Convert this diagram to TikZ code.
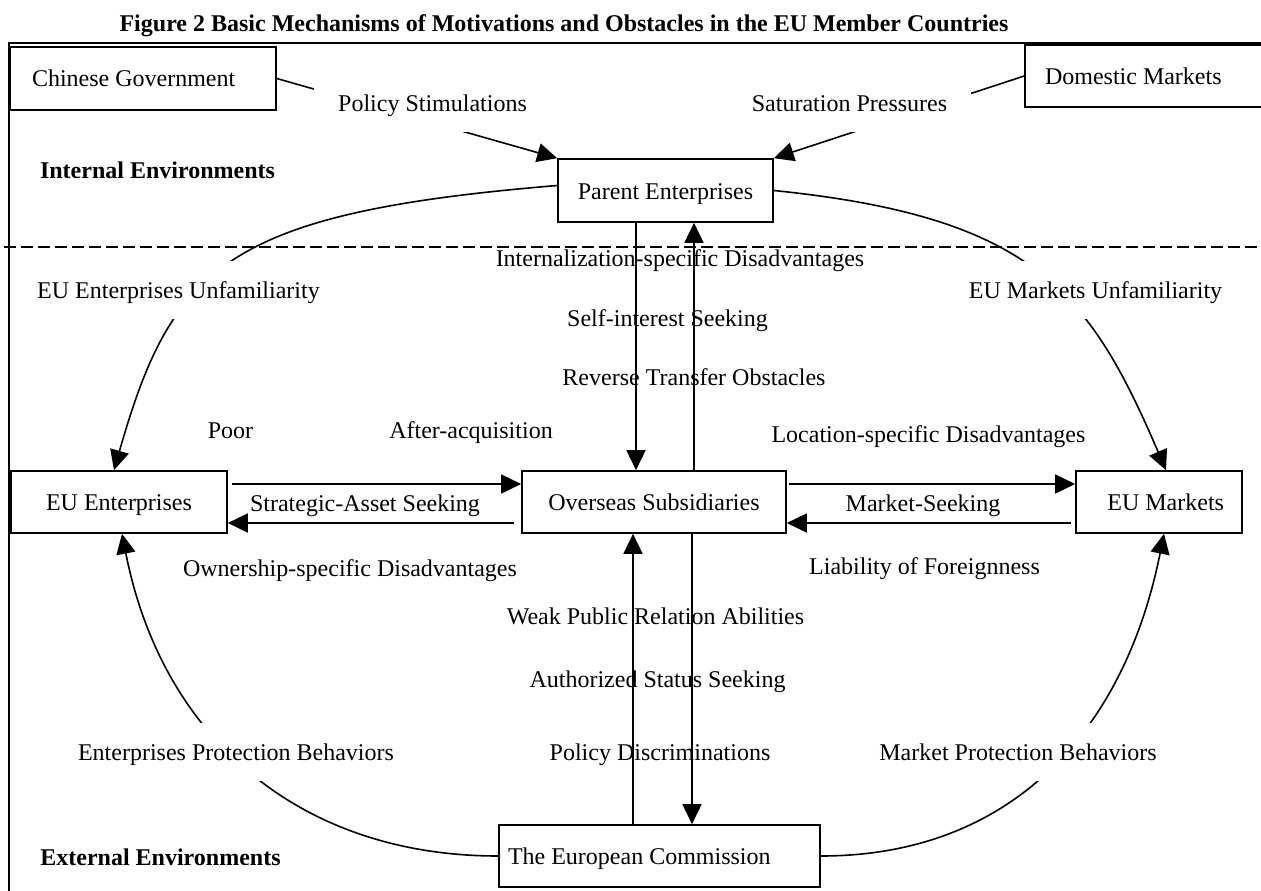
\documentclass[tikz,border=0pt]{standalone}
\usepackage{fontspec}
\setmainfont{Liberation Serif}
\usetikzlibrary{arrows.meta,calc}
\tikzset{
  every node/.style={font=\fontsize{24}{28}\selectfont, inner sep=0pt, text height=21pt, text depth=4pt},
  bold/.style={font=\fontsize{24}{28}\selectfont\bfseries},
  box/.style={draw, fill=white, line width=1.6pt, minimum height=62pt, inner xsep=6pt},
  arr/.style={line width=1.6pt, -{Triangle[length=20pt,width=19pt]}},
  gaplbl/.style={fill=white, minimum height=58pt, inner xsep=24pt},
}
\begin{document}
\begin{tikzpicture}[x=1pt, y=-1pt]
\useasboundingbox (0,0) rectangle (1261,891);
\clip (0,0) rectangle (1261,891);

% frame and divider
\draw[line width=2pt] (9,891) -- (9,43) -- (1261,43);
\draw[line width=1.8pt, dash pattern=on 12pt off 5pt] (4,247) -- (1261,247);

% title and region labels
\node[bold] (title) at (564,23) {Figure 2 Basic Mechanisms of Motivations and Obstacles in the EU Member Countries};
\node[bold] (intenv) at (157.5,170) {Internal Environments};
\node[bold] (extenv) at (160.5,857) {External Environments};

% boxes
\node[box, minimum width=266pt, text width=222pt, inner xsep=22pt, align=flush left, minimum height=63pt] (cg) at (143,78.5) {Chinese Government};
\node[box, minimum width=250pt, text width=210pt, inner xsep=20pt, align=flush left] (dm) at (1150,76) {Domestic Markets};
\node[box, minimum width=215pt, minimum height=63pt] (parent) at (665.5,190.5) {Parent Enterprises};
\node[box, minimum width=216pt] (eue) at (119,502) {EU Enterprises};
\node[box, minimum width=264pt] (ov) at (654,502) {Overseas Subsidiaries};
\node[box, minimum width=166pt, text width=130pt, inner xsep=18pt, align=flush right] (eum) at (1159,502) {EU Markets};
\node[box, minimum width=321pt, text width=303pt, inner xsep=9pt, align=flush left] (ec) at (659.5,856) {The European Commission};

% helper coordinates
\coordinate (c1) at (636,0);
\coordinate (c2) at (694,0);
\coordinate (c3) at (633,0);
\coordinate (c4) at (692,0);
\coordinate (r1) at (0,484);
\coordinate (r2) at (0,523);

% connectors
\draw[arr] (cg.east) -- (parent.north west);
\draw[arr] (dm.west) -- (parent.north east);

\draw[arr] ([yshift=5pt]parent.west) .. controls (225,213) and (172,267) .. ([xshift=-5pt]eue.north);
\draw[arr] (parent.east) .. controls (1033,217) and (1089,291) .. ([xshift=7pt]eum.north);
\draw[arr] (ec.west) .. controls (299,856) and (162,737) .. ([xshift=3pt]eue.south);
\draw[arr] (ec.east) .. controls (1010,856) and (1124,733) .. ([xshift=5pt]eum.south);

\draw[arr] (c1 |- parent.south) -- (c1 |- ov.north);
\draw[arr] (c2 |- ov.north) -- (c2 |- parent.south);
\draw[arr] (c3 |- ec.north) -- (c3 |- ov.south);
\draw[arr] (c4 |- ov.south) -- (c4 |- ec.north);

\draw[arr, shorten <=4pt] (eue.east |- r1) -- (ov.west |- r1);
\draw[arr, shorten <=7pt] (ov.west |- r2) -- (eue.east |- r2);
\draw[arr, shorten <=2pt] (ov.east |- r1) -- (eum.west |- r1);
\draw[arr, shorten <=4pt] (eum.west |- r2) -- (ov.east |- r2);

% labels that interrupt connectors
\node[gaplbl] (ps) at (432.5,103) {Policy Stimulations};
\node[gaplbl] (sp) at (849.5,103) {Saturation Pressures};
\node[gaplbl] (euu) at (178.5,290) {EU Enterprises Unfamiliarity};
\node[gaplbl] (emu) at (1095.5,290) {EU Markets Unfamiliarity};
\node[gaplbl] (epb) at (236,752) {Enterprises Protection Behaviors};
\node[gaplbl] (mpb) at (1018,752) {Market Protection Behaviors};

% plain labels
\node (isd) at (680,258) {Internalization-specific Disadvantages};
\node (sis) at (667.5,318) {Self-interest Seeking};
\node (rto) at (694,377) {Reverse Transfer Obstacles};
\node (poor) at (230.5,430) {Poor};
\node (aa) at (471,430) {After-acquisition};
\node (lsd) at (928.5,434) {Location-specific Disadvantages};
\node (sas) at (365,503) {Strategic-Asset Seeking};
\node (ms) at (923,503) {Market-Seeking};
\node (osd) at (350,568) {Ownership-specific Disadvantages};
\node (lof) at (924.5,566) {Liability of Foreignness};
\node (wpr) at (655.5,616) {Weak Public Relation Abilities};
\node (ass) at (657.5,679) {Authorized Status Seeking};
\node (pd) at (660,752) {Policy Discriminations};
\end{tikzpicture}
\end{document}
